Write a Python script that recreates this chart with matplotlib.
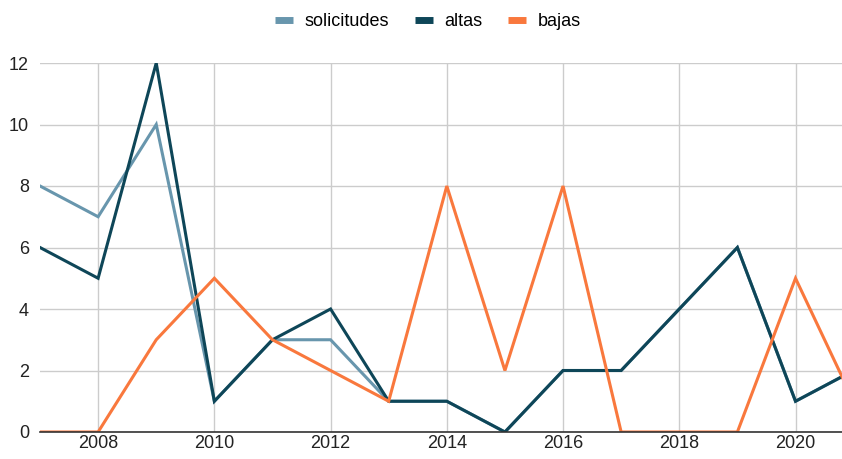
import matplotlib
matplotlib.use("Agg")
import matplotlib.pyplot as plt
from matplotlib.lines import Line2D

plt.rcParams['font.family'] = ['Liberation Sans', 'DejaVu Sans']

years = [2007, 2008, 2009, 2010, 2011, 2012, 2013, 2014, 2015, 2016, 2017, 2018, 2019, 2020, 2021]
solicitudes = [8, 7, 10, 1, 3, 3, 1, 1, 0, 2, 2, 4, 6, 1, 2]
altas = [6, 5, 12, 1, 3, 4, 1, 1, 0, 2, 2, 4, 6, 1, 2]
bajas = [0, 0, 3, 5, 3, 2, 1, 8, 2, 8, 0, 0, 0, 5, 1]
series_names = ["solicitudes", "altas", "bajas"]
colors = ["#6896ad", "#0e4658", "#f9783d"]
xticks = [2008, 2010, 2012, 2014, 2016, 2018, 2020]
yticks = [0, 2, 4, 6, 8, 10, 12]

fig = plt.figure(figsize=(8.42, 4.59), dpi=100)
ax = fig.add_axes([40/842, 1-432/459, 1-40/842, (432-63)/459])

for vals, c, name in zip([solicitudes, altas, bajas], colors, series_names):
    ax.plot(years, vals, color=c, lw=2.2, label=name, zorder=3, solid_joinstyle='miter')

ax.set_xlim(2007, 2020.8)
ax.set_ylim(0, 12)
ax.set_xticks(xticks)
ax.set_yticks(yticks)
ax.grid(True, color="#cccccc", lw=1)
ax.set_axisbelow(True)
for s in ['top', 'right', 'left']:
    ax.spines[s].set_visible(False)
ax.spines['bottom'].set_color('#333333')
ax.spines['bottom'].set_linewidth(1.2)
ax.spines['bottom'].set_zorder(4)
ax.tick_params(axis='both', length=0, labelsize=13, colors='#222222')
ax.tick_params(axis='y', pad=8)
ax.tick_params(axis='x', pad=2)

handles = [Line2D([0], [0], color=c, lw=5, solid_capstyle='butt') for c in colors]
fig.legend(handles, series_names, loc='center', bbox_to_anchor=(428/842, 1-22/459),
           ncol=3, frameon=False, fontsize=13, handlelength=1.0, handletextpad=0.65,
           columnspacing=1.4)

fig.savefig("out.png", dpi=100)
